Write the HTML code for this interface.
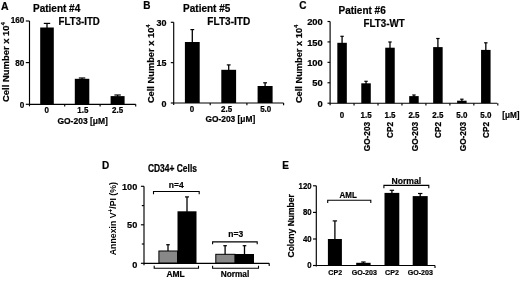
<!DOCTYPE html>
<html><head><meta charset="utf-8"><style>
html,body{margin:0;padding:0;background:#fff;}
svg{display:block;will-change:transform;}
text.thin{stroke:none;}
text{stroke:#000;stroke-width:0.2px;font-family:"Liberation Sans",sans-serif;font-weight:bold;fill:#000;}
</style></head><body>
<svg width="520" height="281" viewBox="0 0 520 281" stroke="#000">
<rect x="0" y="0" width="520" height="281" fill="#fff" stroke="none"/>
<g stroke="none">
</g>
<text transform="translate(1,9.8) scale(1,1.1)" font-size="10.5" text-anchor="start" >A</text>
<text transform="translate(33,11.5) scale(1,1.12)" font-size="10" text-anchor="start" >Patient #4</text>
<text transform="translate(58.6,25) scale(1,1.12)" font-size="9.7" text-anchor="start" >FLT3-ITD</text>
<line x1="29.5" y1="21.0" x2="29.5" y2="106.3" stroke-width="1.15"/>
<line x1="25.8" y1="21.0" x2="29.5" y2="21.0" stroke-width="1.15"/>
<line x1="25.8" y1="62.6" x2="29.5" y2="62.6" stroke-width="1.15"/>
<line x1="25.8" y1="104.3" x2="29.5" y2="104.3" stroke-width="1.15"/>
<line x1="29.5" y1="104.3" x2="135.7" y2="104.3" stroke-width="1.15"/>
<line x1="64.7" y1="104.3" x2="64.7" y2="106.6" stroke-width="1.15"/>
<line x1="100.1" y1="104.3" x2="100.1" y2="106.6" stroke-width="1.15"/>
<line x1="135.7" y1="104.3" x2="135.7" y2="106.6" stroke-width="1.15"/>
<text transform="translate(24.4,23.4) scale(1,1.12)" font-size="8.2" text-anchor="end" >160</text>
<text transform="translate(24.4,65.7) scale(1,1.12)" font-size="8.2" text-anchor="end" >80</text>
<text transform="translate(24.4,108.0) scale(1,1.12)" font-size="8.2" text-anchor="end" >0</text>
<line x1="47.0" y1="28.5" x2="47.0" y2="23.4" stroke-width="1.3"/><line x1="43.8" y1="23.4" x2="50.2" y2="23.4" stroke-width="1.2"/>
<rect x="40.2" y="27.5" width="13.599999999999994" height="76.8" fill="#000" stroke="none"/>
<line x1="82.05" y1="79.8" x2="82.05" y2="78.0" stroke-width="1.3"/><line x1="78.85" y1="78.0" x2="85.25" y2="78.0" stroke-width="1.2"/>
<rect x="74.8" y="78.8" width="14.5" height="25.5" fill="#000" stroke="none"/>
<line x1="117.6" y1="97.1" x2="117.6" y2="95.0" stroke-width="1.3"/><line x1="114.39999999999999" y1="95.0" x2="120.8" y2="95.0" stroke-width="1.2"/>
<rect x="110.6" y="96.1" width="14.0" height="8.200000000000003" fill="#000" stroke="none"/>
<text transform="translate(46.6,113.3) scale(1,1.12)" font-size="8" text-anchor="middle" >0</text>
<text transform="translate(82.9,113.3) scale(1,1.12)" font-size="8" text-anchor="middle" >1.5</text>
<text transform="translate(117.6,113.3) scale(1,1.12)" font-size="8" text-anchor="middle" >2.5</text>
<text transform="translate(57.4,123.9) scale(1,1.12)" font-size="8.5" text-anchor="start" >GO-203 [μM]</text>
<text transform="translate(9.1,102) rotate(-90)" font-size="9.45">Cell Number x 10<tspan font-size="5.4" dx="0.2" dy="-4.4">4</tspan></text>
<text transform="translate(143.2,9) scale(1,1.1)" font-size="10" text-anchor="start" >B</text>
<text transform="translate(183.1,11.6) scale(1,1.12)" font-size="10" text-anchor="start" >Patient #5</text>
<text transform="translate(207.3,25.1) scale(1,1.12)" font-size="10.1" text-anchor="start" >FLT3-ITD</text>
<line x1="173.7" y1="22.3" x2="173.7" y2="105" stroke-width="1.15"/>
<line x1="170.8" y1="22.3" x2="173.7" y2="22.3" stroke-width="1.15"/>
<line x1="170.8" y1="62.65" x2="173.7" y2="62.65" stroke-width="1.15"/>
<line x1="170.8" y1="103" x2="173.7" y2="103" stroke-width="1.15"/>
<line x1="173.7" y1="103" x2="283.6" y2="103" stroke-width="1.15"/>
<line x1="210.2" y1="103" x2="210.2" y2="105.3" stroke-width="1.15"/>
<line x1="246.9" y1="103" x2="246.9" y2="105.3" stroke-width="1.15"/>
<line x1="283.6" y1="103" x2="283.6" y2="105.3" stroke-width="1.15"/>
<text transform="translate(166.4,25.9) scale(1,1.08)" font-size="9.0" text-anchor="end" >30</text>
<text transform="translate(166.4,66.05) scale(1,1.08)" font-size="9.0" text-anchor="end" >15</text>
<text transform="translate(166.4,106.7) scale(1,1.08)" font-size="9.0" text-anchor="end" >0</text>
<line x1="192.3" y1="43" x2="192.3" y2="29.6" stroke-width="1.3"/><line x1="190.4" y1="29.6" x2="194.20000000000002" y2="29.6" stroke-width="1.2"/>
<rect x="184.9" y="42" width="14.799999999999983" height="61" fill="#000" stroke="none"/>
<line x1="228.7" y1="70.8" x2="228.7" y2="64.9" stroke-width="1.3"/><line x1="226.79999999999998" y1="64.9" x2="230.6" y2="64.9" stroke-width="1.2"/>
<rect x="221.3" y="69.8" width="14.799999999999983" height="33.2" fill="#000" stroke="none"/>
<line x1="265.1" y1="87" x2="265.1" y2="82.8" stroke-width="1.3"/><line x1="263.20000000000005" y1="82.8" x2="267.0" y2="82.8" stroke-width="1.2"/>
<rect x="257.6" y="86" width="15.0" height="17" fill="#000" stroke="none"/>
<text transform="translate(191.9,111.6) scale(1,1.12)" font-size="8" text-anchor="middle" >0</text>
<text transform="translate(226.6,111.6) scale(1,1.12)" font-size="8" text-anchor="middle" >2.5</text>
<text transform="translate(265.7,111.6) scale(1,1.12)" font-size="8" text-anchor="middle" >5.0</text>
<text transform="translate(205.4,121.6) scale(1,1.12)" font-size="8.4" text-anchor="start" >GO-203 [μM]</text>
<text transform="translate(154,103.1) rotate(-90)" font-size="9.3">Cell Number x 10<tspan font-size="5.4" dx="0.2" dy="-4.4">4</tspan></text>
<text transform="translate(299.2,9.2) scale(1,1.1)" font-size="10" text-anchor="start" >C</text>
<text transform="translate(338.5,13.5) scale(1,1.12)" font-size="10" text-anchor="start" >Patient #6</text>
<text transform="translate(363.6,26.5) scale(1,1.12)" font-size="9.8" text-anchor="start" >FLT3-WT</text>
<line x1="330.1" y1="21.5" x2="330.1" y2="105.2" stroke-width="1.15"/>
<line x1="327.5" y1="21.5" x2="330.1" y2="21.5" stroke-width="1.15"/>
<line x1="327.5" y1="41.925" x2="330.1" y2="41.925" stroke-width="1.15"/>
<line x1="327.5" y1="62.35" x2="330.1" y2="62.35" stroke-width="1.15"/>
<line x1="327.5" y1="82.775" x2="330.1" y2="82.775" stroke-width="1.15"/>
<line x1="327.5" y1="103.2" x2="330.1" y2="103.2" stroke-width="1.15"/>
<line x1="330.1" y1="103.2" x2="497.2" y2="103.2" stroke-width="1.15"/>
<line x1="354.0571428571429" y1="103.2" x2="354.0571428571429" y2="105.6" stroke-width="1.15"/>
<line x1="378.01428571428573" y1="103.2" x2="378.01428571428573" y2="105.6" stroke-width="1.15"/>
<line x1="401.9714285714286" y1="103.2" x2="401.9714285714286" y2="105.6" stroke-width="1.15"/>
<line x1="425.92857142857144" y1="103.2" x2="425.92857142857144" y2="105.6" stroke-width="1.15"/>
<line x1="449.8857142857143" y1="103.2" x2="449.8857142857143" y2="105.6" stroke-width="1.15"/>
<line x1="473.84285714285716" y1="103.2" x2="473.84285714285716" y2="105.6" stroke-width="1.15"/>
<line x1="497.8" y1="103.2" x2="497.8" y2="105.6" stroke-width="1.15"/>
<text transform="translate(322.8,25.1) scale(1,1.0)" font-size="9.4" text-anchor="end" >200</text>
<text transform="translate(322.8,45.525) scale(1,1.0)" font-size="9.4" text-anchor="end" >150</text>
<text transform="translate(322.8,65.95) scale(1,1.0)" font-size="9.4" text-anchor="end" >100</text>
<text transform="translate(322.8,86.375) scale(1,1.0)" font-size="9.4" text-anchor="end" >50</text>
<text transform="translate(322.8,106.8) scale(1,1.0)" font-size="9.4" text-anchor="end" >0</text>
<line x1="342.0785714285714" y1="43.8" x2="342.0785714285714" y2="36.3" stroke-width="1.3"/><line x1="340.37857142857143" y1="36.3" x2="343.7785714285714" y2="36.3" stroke-width="1.2"/>
<rect x="337.3285714285714" y="42.8" width="9.5" height="60.400000000000006" fill="#000" stroke="none"/>
<text transform="translate(342.0785714285714,118.4) scale(1,1.12)" font-size="8" text-anchor="middle" >0</text>
<line x1="366.03571428571433" y1="84.3" x2="366.03571428571433" y2="81.3" stroke-width="1.3"/><line x1="364.33571428571435" y1="81.3" x2="367.7357142857143" y2="81.3" stroke-width="1.2"/>
<rect x="361.28571428571433" y="83.3" width="9.5" height="19.900000000000006" fill="#000" stroke="none"/>
<text transform="translate(366.03571428571433,118.4) scale(1,1.12)" font-size="8" text-anchor="middle" >1.5</text>
<text transform="translate(369.84,121.8) rotate(-90) scale(1,1.12)" font-size="8.3" text-anchor="end">GO-203</text>
<line x1="389.99285714285713" y1="48.7" x2="389.99285714285713" y2="42" stroke-width="1.3"/><line x1="388.29285714285714" y1="42" x2="391.6928571428571" y2="42" stroke-width="1.2"/>
<rect x="385.24285714285713" y="47.7" width="9.5" height="55.5" fill="#000" stroke="none"/>
<text transform="translate(389.99285714285713,118.4) scale(1,1.12)" font-size="8" text-anchor="middle" >1.5</text>
<text transform="translate(392.89,121.8) rotate(-90) scale(1,1.12)" font-size="8.3" text-anchor="end">CP2</text>
<line x1="413.95000000000005" y1="97.1" x2="413.95000000000005" y2="95" stroke-width="1.3"/><line x1="412.25000000000006" y1="95" x2="415.65000000000003" y2="95" stroke-width="1.2"/>
<rect x="409.20000000000005" y="96.1" width="9.5" height="7.1000000000000085" fill="#000" stroke="none"/>
<text transform="translate(413.95000000000005,118.4) scale(1,1.12)" font-size="8" text-anchor="middle" >2.5</text>
<text transform="translate(417.75,121.8) rotate(-90) scale(1,1.12)" font-size="8.3" text-anchor="end">GO-203</text>
<line x1="437.90714285714284" y1="48.1" x2="437.90714285714284" y2="38.5" stroke-width="1.3"/><line x1="436.20714285714286" y1="38.5" x2="439.60714285714283" y2="38.5" stroke-width="1.2"/>
<rect x="433.15714285714284" y="47.1" width="9.5" height="56.1" fill="#000" stroke="none"/>
<text transform="translate(437.90714285714284,118.4) scale(1,1.12)" font-size="8" text-anchor="middle" >2.5</text>
<text transform="translate(440.81,121.8) rotate(-90) scale(1,1.12)" font-size="8.3" text-anchor="end">CP2</text>
<line x1="461.86428571428576" y1="101.7" x2="461.86428571428576" y2="99.2" stroke-width="1.3"/><line x1="460.16428571428577" y1="99.2" x2="463.56428571428575" y2="99.2" stroke-width="1.2"/>
<rect x="457.11428571428576" y="100.7" width="9.5" height="2.5" fill="#000" stroke="none"/>
<text transform="translate(461.86428571428576,118.4) scale(1,1.12)" font-size="8" text-anchor="middle" >5.0</text>
<text transform="translate(465.66,121.8) rotate(-90) scale(1,1.12)" font-size="8.3" text-anchor="end">GO-203</text>
<line x1="485.82142857142856" y1="50.9" x2="485.82142857142856" y2="42.8" stroke-width="1.3"/><line x1="484.12142857142857" y1="42.8" x2="487.52142857142854" y2="42.8" stroke-width="1.2"/>
<rect x="481.07142857142856" y="49.9" width="9.5" height="53.300000000000004" fill="#000" stroke="none"/>
<text transform="translate(485.82142857142856,118.4) scale(1,1.12)" font-size="8" text-anchor="middle" >5.0</text>
<text transform="translate(488.72,121.8) rotate(-90) scale(1,1.12)" font-size="8.3" text-anchor="end">CP2</text>
<text transform="translate(502.2,118.4) scale(1,1.12)" font-size="8.2" text-anchor="start" >[μM]</text>
<text transform="translate(302.3,103.1) rotate(-90)" font-size="9.28">Cell Number x 10<tspan font-size="5.4" dx="0.2" dy="-4.4">4</tspan></text>
<text transform="translate(102.1,169.1) scale(1,1.1)" font-size="10" text-anchor="start" >D</text>
<text transform="translate(147.9,171.5) scale(1,1.2)" font-size="8.45" text-anchor="start" >CD34+ Cells</text>
<line x1="144.0" y1="186.3" x2="144.0" y2="265.3" stroke-width="1.15"/>
<line x1="140.9" y1="186.3" x2="144.0" y2="186.3" stroke-width="1.15"/>
<line x1="140.9" y1="224.8" x2="144.0" y2="224.8" stroke-width="1.15"/>
<line x1="140.9" y1="263.3" x2="144.0" y2="263.3" stroke-width="1.15"/>
<line x1="141.8" y1="205.6" x2="144.0" y2="205.6" stroke-width="1.15"/>
<line x1="141.8" y1="244.0" x2="144.0" y2="244.0" stroke-width="1.15"/>
<line x1="144.0" y1="263.3" x2="269.2" y2="263.3" stroke-width="1.15"/>
<line x1="269.2" y1="263.3" x2="269.2" y2="266" stroke-width="1.15"/>
<text transform="translate(137.3,190.0) scale(1,0.97)" font-size="9.2" text-anchor="end" >100</text>
<text transform="translate(137.3,228.2) scale(1,0.97)" font-size="9.2" text-anchor="end" >50</text>
<text transform="translate(137.3,267.7) scale(1,0.97)" font-size="9.2" text-anchor="end" >0</text>
<line x1="168.0" y1="251.5" x2="168.0" y2="244.7" stroke-width="1.3"/><line x1="166.2" y1="244.7" x2="169.8" y2="244.7" stroke-width="1.2"/>
<line x1="187.0" y1="212" x2="187.0" y2="196.9" stroke-width="1.3"/><line x1="185.0" y1="196.9" x2="189.0" y2="196.9" stroke-width="1.2"/>
<line x1="225.1" y1="254.8" x2="225.1" y2="245.7" stroke-width="1.3"/><line x1="223.29999999999998" y1="245.7" x2="226.9" y2="245.7" stroke-width="1.2"/>
<line x1="244.5" y1="254.8" x2="244.5" y2="245.7" stroke-width="1.3"/><line x1="242.7" y1="245.7" x2="246.3" y2="245.7" stroke-width="1.2"/>
<rect x="158.9" y="251.0" width="18.599999999999994" height="12.0" fill="#888" stroke="#000" stroke-width="1"/>
<rect x="177.5" y="211.3" width="19.0" height="51.69999999999999" fill="#000" stroke="none"/>
<rect x="215.8" y="254.3" width="19.099999999999994" height="8.699999999999989" fill="#888" stroke="#000" stroke-width="1"/>
<rect x="234.9" y="254" width="19.099999999999994" height="9" fill="#000" stroke="none"/>
<polyline points="153.5,194.3 153.5,191.5 199.2,191.5 199.2,194.3" fill="none" stroke-width="1.1"/>
<text transform="translate(176.3,188.4) scale(1,1.12)" font-size="8.5" text-anchor="middle" >n=4</text>
<polyline points="212.6,244.3 212.6,241.9 257.2,241.9 257.2,244.3" fill="none" stroke-width="1.1"/>
<text transform="translate(235.8,236.6) scale(1,1.12)" font-size="8.5" text-anchor="middle" >n=3</text>
<polyline points="154.2,265.8 154.2,268.2 198.5,268.2 198.5,265.8" fill="none" stroke-width="1.1"/>
<text transform="translate(175.6,277.1) scale(1,1.12)" font-size="8.5" text-anchor="middle" >AML</text>
<polyline points="212.6,265.8 212.6,268.2 258.5,268.2 258.5,265.8" fill="none" stroke-width="1.1"/>
<text transform="translate(235.0,277.2) scale(1,1.12)" font-size="8.3" text-anchor="middle" >Normal</text>
<text transform="translate(116.4,255.2) rotate(-90) scale(1,1.05)" font-size="8.75" class="thin">Annexin V<tspan font-size="6.2" dy="-3.4">+</tspan><tspan dy="3.4">/PI (%)</tspan></text>
<text transform="translate(282.2,168.5) scale(1,1.1)" font-size="10" text-anchor="start" >E</text>
<line x1="316.3" y1="185.8" x2="316.3" y2="266.5" stroke-width="1.15"/>
<line x1="313" y1="185.8" x2="316.3" y2="185.8" stroke-width="1.15"/>
<line x1="313" y1="212.4" x2="316.3" y2="212.4" stroke-width="1.15"/>
<line x1="313" y1="239" x2="316.3" y2="239" stroke-width="1.15"/>
<line x1="313" y1="265.5" x2="316.3" y2="265.5" stroke-width="1.15"/>
<line x1="316.3" y1="265.5" x2="435" y2="265.5" stroke-width="1.15"/>
<line x1="435" y1="265.5" x2="435" y2="268" stroke-width="1.15"/>
<text transform="translate(311.6,188.70000000000002) scale(1,1.2)" font-size="7.8" text-anchor="end" >120</text>
<text transform="translate(311.6,215.3) scale(1,1.2)" font-size="7.8" text-anchor="end" >80</text>
<text transform="translate(311.6,241.9) scale(1,1.2)" font-size="7.8" text-anchor="end" >40</text>
<text transform="translate(311.6,268.4) scale(1,1.2)" font-size="7.8" text-anchor="end" >0</text>
<line x1="334.9" y1="240" x2="334.9" y2="220.9" stroke-width="1.3"/><line x1="332.7" y1="220.9" x2="337.09999999999997" y2="220.9" stroke-width="1.2"/>
<rect x="327.9" y="239" width="14.0" height="26.5" fill="#000" stroke="none"/>
<line x1="363.4" y1="263.8" x2="363.4" y2="262.0" stroke-width="1.3"/><line x1="361.2" y1="262.0" x2="365.59999999999997" y2="262.0" stroke-width="1.2"/>
<rect x="356.2" y="262.8" width="14.400000000000034" height="2.6999999999999886" fill="#000" stroke="none"/>
<line x1="391.9" y1="193.9" x2="391.9" y2="190.3" stroke-width="1.3"/><line x1="389.7" y1="190.3" x2="394.09999999999997" y2="190.3" stroke-width="1.2"/>
<rect x="384.5" y="192.9" width="14.800000000000011" height="72.6" fill="#000" stroke="none"/>
<line x1="420.2" y1="197.1" x2="420.2" y2="193.5" stroke-width="1.3"/><line x1="418.0" y1="193.5" x2="422.4" y2="193.5" stroke-width="1.2"/>
<rect x="412.7" y="196.1" width="15.0" height="69.4" fill="#000" stroke="none"/>
<polyline points="327.7,203 327.7,200.2 370.8,200.2 370.8,203" fill="none" stroke-width="1.1"/>
<text transform="translate(348.2,198.3) scale(1,1.12)" font-size="8" text-anchor="middle" >AML</text>
<polyline points="383.9,188.2 383.9,185.4 428.8,185.4 428.8,188.2" fill="none" stroke-width="1.1"/>
<text transform="translate(406.3,183.9) scale(1,1.12)" font-size="8.6" text-anchor="middle" >Normal</text>
<text transform="translate(335.2,274.9) scale(1,1.12)" font-size="7.1" text-anchor="middle" >CP2</text>
<text transform="translate(364.3,274.9) scale(1,1.12)" font-size="7.1" text-anchor="middle" >GO-203</text>
<text transform="translate(392,274.9) scale(1,1.12)" font-size="7.1" text-anchor="middle" >CP2</text>
<text transform="translate(420.3,274.9) scale(1,1.12)" font-size="7.1" text-anchor="middle" >GO-203</text>
<text transform="translate(293.9,257.5) rotate(-90) scale(1,1.12)" font-size="8.5">Colony Number</text>
</svg>
</body></html>
